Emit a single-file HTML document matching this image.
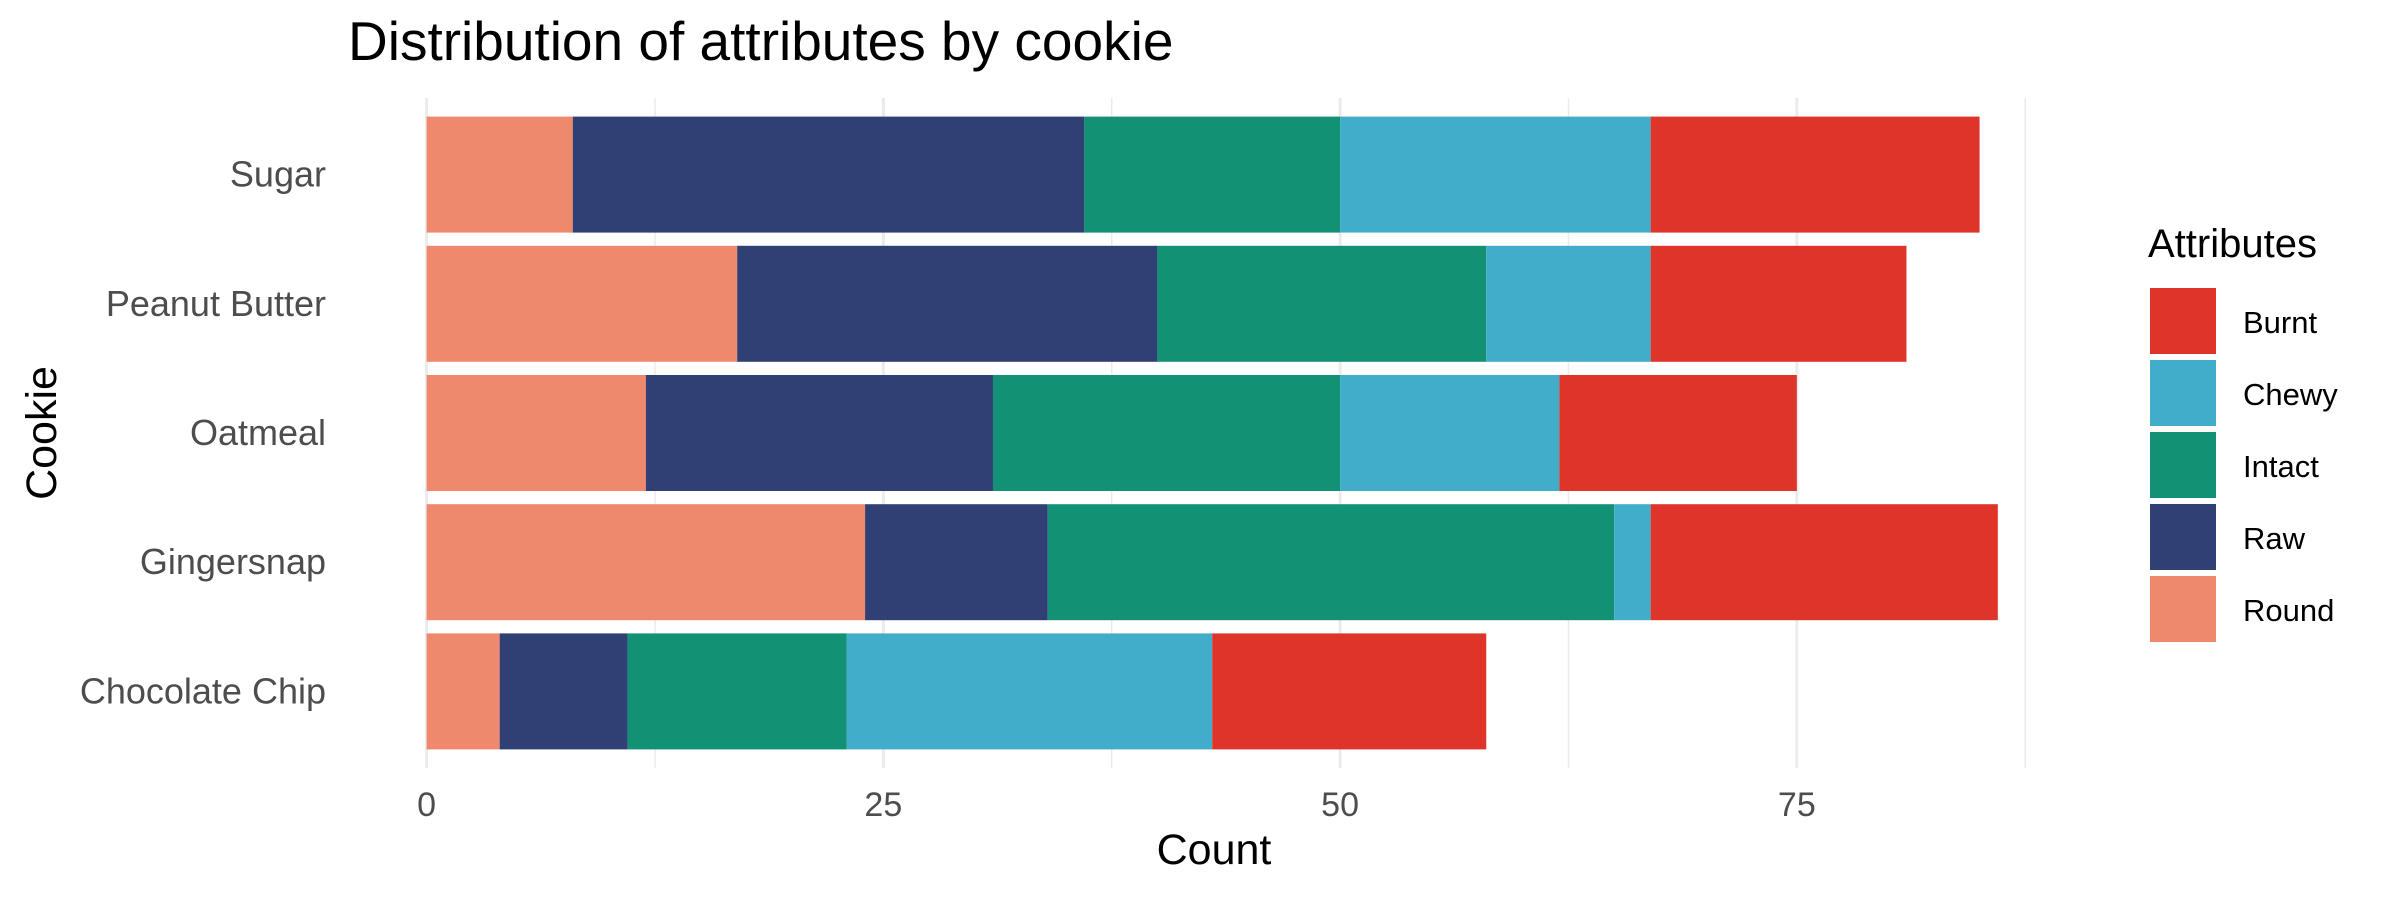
<!DOCTYPE html>
<html><head><meta charset="utf-8"><style>
html,body{margin:0;padding:0;background:#fff;}
svg{display:block;font-family:"Liberation Sans",Arial,sans-serif;}
</style></head><body>
<svg id="chart" width="2400" height="900" viewBox="0 0 2400 900">
<g id="grid"></g>
<g id="bars"></g>
<g id="axes"></g>
<text x="348" y="60" font-size="55" fill="#000">Distribution of attributes by cookie</text>
<text x="1214" y="864" font-size="43" fill="#000" text-anchor="middle">Count</text>
<text transform="translate(56,433) rotate(-90)" font-size="43" fill="#000" text-anchor="middle">Cookie</text>
<g id="legend">
<text x="2148" y="257" font-size="40" fill="#000">Attributes</text>
</g>
</svg>
<script>
const categories = ["Sugar","Peanut Butter","Oatmeal","Gingersnap","Chocolate Chip"];
const seriesNames = ["Round","Raw","Intact","Chewy","Burnt"];
const roundVals  = [8, 17, 12, 24, 4];
const rawVals    = [28, 23, 19, 10, 7];
const intactVals = [14, 18, 19, 31, 12];
const chewyVals  = [17, 9, 12, 2, 20];
const burntVals  = [18, 14, 13, 19, 15];
const xTicks = [0, 25, 50, 75];
const legendOrder = ["Burnt","Chewy","Intact","Raw","Round"];

const colors = {Round:"#EF896E",Raw:"#304075",Intact:"#139174",Chewy:"#42ADCB",Burnt:"#DE3429"};
const seriesVals = {Round:roundVals,Raw:rawVals,Intact:intactVals,Chewy:chewyVals,Burnt:burntVals};
const NS="http://www.w3.org/2000/svg";
const x0=426.6, unit=18.27;
const xs = v => x0 + v*unit;
const rowTop=110, rowStep=129.2;
const ys = i => rowTop + rowStep*(i+0.5);
const barH = 116;
function mk(tag, attrs, parent){const e=document.createElementNS(NS,tag);for(const k in attrs)e.setAttribute(k,attrs[k]);parent.appendChild(e);return e;}
const grid=document.getElementById('grid'), bars=document.getElementById('bars'), axes=document.getElementById('axes'), legend=document.getElementById('legend');
for(let v=0; v<=87.5; v+=12.5){
  const l=mk('line',{x1:xs(v),x2:xs(v),y1:98,y2:768,stroke:'#EBEBEB','stroke-width':v%25===0?3:1.5},grid);
  
  
}
categories.forEach((c,i)=>{
  let cum=0;
  seriesNames.forEach(s=>{
    const v=seriesVals[s][i];
    const r=mk('rect',{x:xs(cum),y:ys(i)-barH/2,width:v*unit,height:barH,fill:colors[s]},bars);
    
    
    cum+=v;
  });
  const t=mk('text',{x:326,y:ys(i)+12,'font-size':36,fill:'#4D4D4D','text-anchor':'end'},axes);
  t.textContent=c;
  
  
});
xTicks.forEach(v=>{
  const t=mk('text',{x:xs(v),y:816,'font-size':34,fill:'#4D4D4D','text-anchor':'middle'},axes);
  t.textContent=v;
  
  
});
legendOrder.forEach((s,i)=>{
  const y=288+72*i;
  const r=mk('rect',{x:2150,y:y,width:66,height:66,fill:colors[s]},legend);
  
  
  const t=mk('text',{x:2243,y:y+45,'font-size':31,fill:'#000'},legend);
  t.textContent=s;
  
  
});
</script>
</body></html>
